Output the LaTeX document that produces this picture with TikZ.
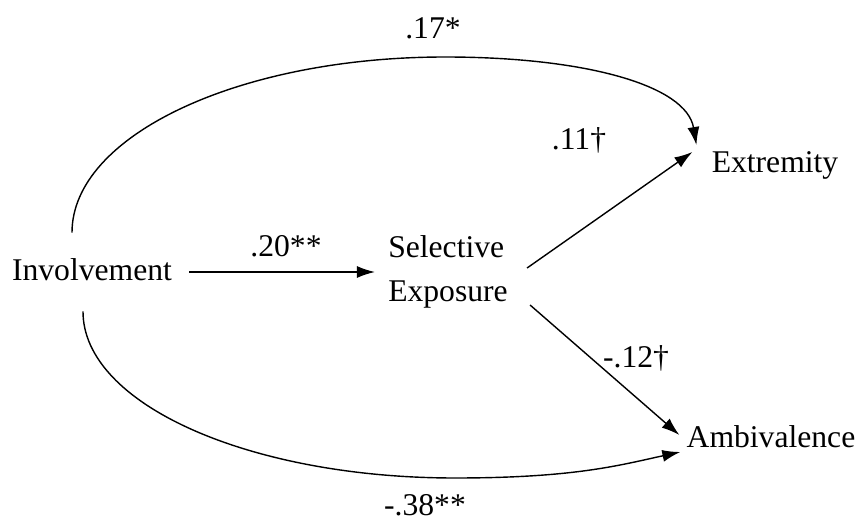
\documentclass[tikz,border=0pt]{standalone}
\usepackage{fontspec}
\setmainfont{Liberation Serif}
\usetikzlibrary{arrows.meta, positioning}

\begin{document}
\begin{tikzpicture}[x=0.02cm, y=0.02cm,
  var/.style={inner sep=0pt, font=\fontsize{18}{25}\selectfont},
  coef/.style={inner sep=0pt, font=\fontsize{18}{22}\selectfont},
  link/.style={line width=0.8pt, -{Latex[length=0.36cm, width=0.24cm]}}]
\useasboundingbox (0,0) rectangle (860,525);

% Variables
\node[var] (inv) at (92,255) {Involvement};
\node[var, align=left] (sel) at (448,253) {Selective\\Exposure};
\node[var] (ext) at (775,360) {Extremity};
\node[var] (amb) at (771,88) {Ambivalence};

% Mediated paths
\draw[link] ([shift={(17,-2)}]inv.east) -- ([shift={(-13,0)}]sel.west);
\draw[link] ([shift={(19,4)}]sel.east) -- ([shift={(-19,13)}]ext.west);
\draw[link] ([shift={(22,-33)}]sel.east) -- ([shift={(-7,2)}]amb.west);

% Direct paths
\coordinate (toparc) at (445,468);
\coordinate (botarc) at (455,47);
\draw[link] ([shift={(-20,26)}]inv.north) .. controls +(0,97) and +(-206,0) .. (toparc)
  .. controls +(139,0) and +(-10,60) .. ([shift={(-15,20)}]ext.west);
\draw[link] ([shift={(-9,-30)}]inv.south) .. controls +(0,-93) and +(-205,0) .. (botarc)
  .. controls +(120,0) and +(-60,-13) .. ([shift={(-6,-15)}]amb.west);

% Coefficients
\node[coef] (c1) at (286,279) {.20**};
\node[coef] (c2) at (579,385) {.11\textdagger};
\node[coef] (c3) at (636,167) {-.12\textdagger};
\node[coef] (c4) at (433,497) {.17*};
\node[coef] (c5) at (425,20) {-.38**};
\end{tikzpicture}
\end{document}
